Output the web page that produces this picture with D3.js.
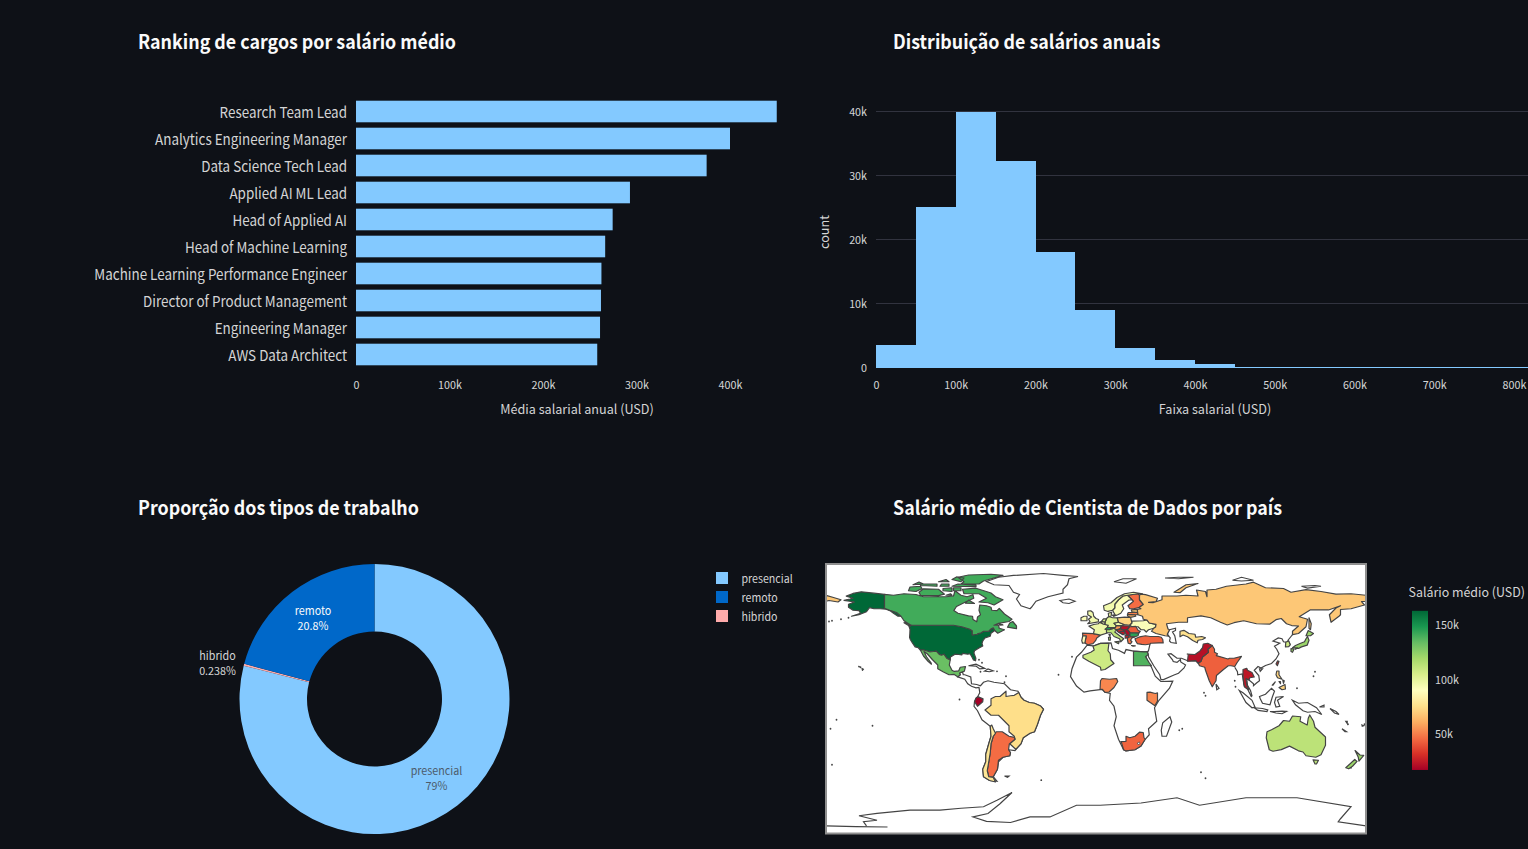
<!DOCTYPE html>
<html><head><meta charset="utf-8">
<script src="https://d3js.org/d3.v7.min.js"></script>
<style>html,body{margin:0;padding:0;background:#0E1117;overflow:hidden}svg{display:block}text{font-family:"Noto Sans CJK SC","Noto Sans",sans-serif}</style>
</head><body><svg id="c" width="1528" height="849"></svg>
<script>
// ---------- data ----------
const jobTitles=["Research Team Lead","Analytics Engineering Manager","Data Science Tech Lead","Applied AI ML Lead","Head of Applied AI","Head of Machine Learning","Machine Learning Performance Engineer","Director of Product Management","Engineering Manager","AWS Data Architect"];
const jobSalaries=[450000,400000,375000,293000,274500,266500,262500,262000,261000,258000];
const barTicks=[0,100000,200000,300000,400000];
const histBinStarts=[0,50,100,150,200,250,300,350,400,450,500,550,600,650,700,750,800,850].map(k=>k*1000);
const histCounts=[3500,25100,39950,32200,18000,9000,3000,1200,600,150,120,110,100,100,100,100,100,100];
const histXTicks=[0,100000,200000,300000,400000,500000,600000,700000,800000];
const histYTicks=[0,10000,20000,30000,40000];
const workTypes=["presencial","hibrido","remoto"];
const workShares=[79,0.238,20.8];
const workShareLabels=["79%","0.238%","20.8%"];
const legendOrder=["presencial","remoto","hibrido"];
const colorbarTicks=[50000,100000,150000];
const rdYlGn=["#a50026","#d73027","#f46d43","#fdae61","#fee08b","#ffffbf","#d9ef8b","#a6d96a","#66bd63","#1a9850","#006837"];
const salaryMin=17000,salaryMax=163000;

// average salary per country
const countrySalaries={USA:163000,Canada:141000,Mexico:133000,Brazil:75000,Argentina:46000,Chile:78000,Ecuador:17000,Spain:46000,Portugal:88000,France:97000,UK:95000,Ireland:92000,Germany:102000,Netherlands:105000,Belgium:90000,Switzerland:148000,Italy:112000,Austria:55000,Czechia:95000,Poland:72000,Lithuania:62000,Latvia:50000,Estonia:70000,Ukraine:92000,Hungary:22000,Serbia:20000,Croatia:30000,Bosnia:24000,Albania:25000,Romania:42000,Bulgaria:145000,Greece:48000,Turkey:44000,Finland:46000,Sweden:92000,Norway:95000,Denmark:98000,Russia:68000,Uzbekistan:76000,Egypt:138000,Algeria:108000,Nigeria:52000,Kenya:52000,SouthAfrica:44000,India:43000,Pakistan:22000,Thailand:24000,Taiwan:26000,Japan:122000,SouthKorea:108000,Philippines:72000,Australia:113000,NewZealand:122000};

// country outlines as [lon,lat] rings
const countryRings={
USA:[[[-124.7,48.4],[-123,49],[-95,49],[-89.5,48],[-84.5,46.5],[-82.5,45.3],[-82.5,42.5],[-79,43],[-79,43.3],[-76.5,44],[-75,45],[-71.5,45],[-70,46.5],[-68.5,47.3],[-67.5,45.5],[-70,43.7],[-70.5,41.7],[-74,40.6],[-75.5,38.5],[-76,36.9],[-75.5,35.2],[-78,33.9],[-81,32],[-81.4,30.5],[-80.1,27],[-80.3,25.3],[-81.7,25.9],[-82.8,28],[-84,30],[-85.5,29.7],[-89,30.3],[-89.5,29.2],[-91.5,29.5],[-94,29.7],[-97,27.9],[-97.2,25.9],[-99.3,26.8],[-101.4,29.7],[-103,29],[-104.5,29.6],[-106.5,31.8],[-108.2,31.5],[-111,31.3],[-114.8,32.5],[-117.1,32.5],[-118.5,34],[-120.6,34.6],[-122.4,37.2],[-123.8,39.5],[-124.3,41],[-124.1,43.5],[-124,46.3]],
[[-141,69.6],[-148,70.4],[-156.5,71.3],[-162,70.2],[-166.5,68.4],[-162,67],[-164,66.5],[-168,65.6],[-161,64.5],[-165,63],[-165,61],[-162,59],[-158,58.7],[-157,57],[-163,55],[-158,56],[-153,58],[-151,60.8],[-148,60],[-144,60],[-140,59.7],[-137,58.5],[-135,57],[-132,55],[-130,55],[-133,57.5],[-137.5,59],[-141,60.3]],
[[-156,20.2],[-155,19.7],[-155.7,19]],[[-158.2,21.6],[-157.7,21.3],[-158.1,21.3]]],
Canada:[[[-141,69.6],[-135,69],[-128,70],[-120,69.5],[-115,68],[-108,68],[-100,68],[-95,68.5],[-94,72],[-90,69],[-86,68],[-82,69.3],[-81.5,67],[-87,64.5],[-93,61.5],[-94.8,58.8],[-92,57],[-85,55.3],[-82.3,55],[-82,52.8],[-79.5,51.3],[-79,54.5],[-77,56],[-78,59],[-77.5,62.5],[-73,62],[-70,61],[-69.5,59],[-66,58.8],[-64.5,60.3],[-61,56.5],[-56,53],[-58,51.5],[-65,50.3],[-68,49],[-65,49.2],[-64.5,47],[-61,46],[-65.5,43.7],[-67.5,45.5],[-68.5,47.3],[-70,46.5],[-71.5,45],[-75,45],[-76.5,44],[-79,43.3],[-79,43],[-82.5,42.5],[-82.5,45.3],[-84.5,46.5],[-89.5,48],[-95,49],[-123,49],[-125,50],[-128,52],[-130,55],[-133,57.5],[-137.5,59],[-141,60.3]],
[[-62,66],[-68,62.5],[-72,64],[-78,64.5],[-73,67],[-78,70],[-88,70],[-89,73],[-80,73.7],[-70,70.5],[-67,68]],
[[-117,69],[-105,68.7],[-101,69.7],[-105,73],[-115,73.3],[-118,71]],
[[-125,72],[-120,71.5],[-116,73.5],[-117,75],[-124,74.5]],
[[-90,76.5],[-78,76.5],[-75,78.5],[-62,82.3],[-70,83],[-85,82.5],[-92,81],[-88,78]],
[[-96,75],[-80,74.7],[-80,75.7],[-92,76.5]],
[[-117,75.5],[-106,75],[-106,76.5],[-117,76.5]],
[[-96,79.5],[-90,78],[-88,80.5],[-93,81.2]],
[[-95,72],[-90,72],[-90,74],[-95,74]],
[[-102,72],[-96,71.5],[-96,74],[-102,73.5]],
[[-104,75],[-98,75],[-98,76.5],[-103,76.5]],
[[-122,76],[-115,76.5],[-118,77.8]],
[[-105,78],[-98,78],[-100,79.5]],
[[-100,69],[-96,69],[-97,70]],
[[-87,63.7],[-81,63.5],[-85,65.8]],
[[-59,47.7],[-53,46.7],[-53,48.5],[-55.5,51.5],[-57.5,50.5]],
[[-64.5,50],[-62,49.2],[-64,49.1]],
[[-128,50.7],[-125,48.8],[-123.5,48.4],[-125,50]]],
Mexico:[[[-117.1,32.5],[-114.8,32.5],[-111,31.3],[-108.2,31.5],[-106.5,31.8],[-104.5,29.6],[-103,29],[-101.4,29.7],[-99.3,26.8],[-97.2,25.9],[-97.8,22.5],[-96,19],[-94.5,18.2],[-91.5,18.6],[-90.5,21],[-87,21.5],[-87.8,18.3],[-89,17.9],[-91,17.2],[-90.5,16],[-92.2,14.6],[-94.5,16.2],[-98,16],[-102,18],[-105.5,20],[-105.5,22.5],[-109,26],[-112.5,30],[-114.7,31.5],[-113,28],[-110,24],[-109.7,23],[-112,25],[-115,28.5]]],
Brazil:[[[-51.5,4.2],[-50,1],[-48,-1],[-44.5,-2.5],[-41,-3],[-37,-4.8],[-35,-7],[-37,-11],[-39,-17],[-41,-22],[-44,-23],[-48.5,-26],[-50,-30],[-53.5,-33.7],[-57.5,-30],[-54,-27],[-54.5,-25],[-58,-22],[-58,-18],[-60,-16],[-65,-11],[-70,-11],[-74,-7.5],[-70,-4.3],[-70,0],[-67,1.5],[-64,1.5],[-60,5],[-60,1.5],[-57,2],[-54.5,2.3]]],
Argentina:[[[-66.5,-22],[-62.5,-22],[-58,-25],[-54.5,-25.7],[-54,-27],[-57.8,-30.2],[-58.3,-34],[-57,-36],[-57.5,-38],[-62,-39],[-65,-41],[-65.7,-47],[-68.5,-52],[-71.5,-52],[-72.5,-48],[-71.5,-42],[-70.5,-36],[-70,-30],[-68.5,-25]]],
Chile:[[[-69.5,-17.5],[-70.5,-18.3],[-70,-25],[-71.5,-30],[-73.5,-37],[-73.5,-42],[-75.5,-47],[-75,-52],[-71,-54.5],[-67,-55.5],[-68.5,-52.5],[-71.5,-52],[-72.5,-48],[-71.5,-42],[-70.5,-36],[-70,-30],[-68.5,-25],[-67,-23],[-68.5,-20]]],
Ecuador:[[[-75.3,-0.1],[-78.8,1.4],[-80,0.5],[-81,-2],[-80,-3.4],[-79,-5],[-75.5,-2]]],
Spain:[[[-9,43.8],[-1.7,43.4],[3,42.4],[0.5,40.5],[-0.3,38.7],[-2,36.8],[-5.5,36],[-7.4,37.2],[-7,39.5],[-6.5,41.8],[-8.8,42]]],
Portugal:[[[-8.8,42],[-6.5,41.8],[-7,39.5],[-7.4,37.2],[-9,37],[-9.5,38.8]]],
France:[[[-1.7,43.4],[3,42.4],[7.5,43.8],[7,46],[8.2,49],[4.5,50],[2.5,51],[1.5,50],[-1.5,49.5],[-4.7,48.4],[-1.1,46]],[[8.6,43],[9.5,43],[9.3,41.5]]],
UK:[[[-5.5,50],[1.5,51.2],[1.7,52.8],[0,53.5],[-1.5,55],[-2,57.5],[-3.5,58.6],[-5.5,58.5],[-5.5,56],[-3,54.5],[-5,53],[-4,51.5]]],
Ireland:[[[-10,52],[-6,52],[-6,55],[-8,55],[-10,54]]],
Germany:[[[6,51],[7,53.5],[8.5,54.8],[11,54],[14.2,53.9],[15,51],[12,50.3],[13.5,48.7],[13,47.5],[7.6,47.6],[8.2,49],[6,49.5]]],
Netherlands:[[[3.5,51.4],[6,51],[7,53.3],[5,53.3]]],
Belgium:[[[2.5,51],[3.5,51.4],[6,51],[5.9,49.6],[4.5,50]]],
Switzerland:[[[6,46.3],[7.6,47.6],[9.6,47.5],[10.4,46.6],[9,46],[7,46]]],
Italy:[[[7,44],[7,46],[9,46],[10.4,46.6],[12,47],[13.7,46],[12.5,44.5],[16,41.8],[18.5,40],[16.5,38],[15.7,40],[12,41.5],[10,44]],[[12.5,38],[15.5,38.2],[15,36.7]],[[8.3,41],[9.7,41],[9.5,39],[8.5,39]]],
Austria:[[[9.6,47.5],[13,47.5],[13.5,48.7],[17,48.7],[16.2,46.8],[13.7,46],[12,47],[10.4,46.6]]],
Czechia:[[[12,50.3],[15,51],[18.8,49.5],[17,48.7],[13.5,48.7]]],
Poland:[[[14.2,53.9],[19,54.4],[23,54.3],[24,50.5],[22.5,49],[18.8,49.5],[15,51]]],
Lithuania:[[[21,55.2],[21,56.3],[26,56],[26.5,55],[23,54.3]]],
Latvia:[[[21,56.3],[21.5,57.5],[24,57.5],[27.5,57.5],[28,56],[26,56]]],
Estonia:[[[23.5,59.2],[28,59.6],[27.5,57.5],[24,57.9]]],
Ukraine:[[[24,50.5],[24,51.7],[31.5,52],[34,52.5],[35.5,50.5],[40,49.6],[39.7,47.8],[38.5,47],[35,46],[33.5,44.5],[32,46],[30,46],[28,48],[24,48],[22.5,49]]],
Hungary:[[[16.2,46.8],[17,48.7],[22.5,48.5],[21,46.2],[18,45.8]]],
Serbia:[[[19,46],[21,46.2],[22.8,44],[22.5,42.3],[20.5,42.3],[19.3,44.5]]],
Croatia:[[[13.7,45.5],[16.2,46.5],[19,45.5],[16,44],[18,42.6],[15,44.3]]],
Bosnia:[[[16,45],[19,44.9],[19.3,43.2],[18,42.8],[16,44]]],
Albania:[[[19.4,42.4],[21,42.2],[22.5,42.3],[21,40.5],[19.5,40.4]]],
Romania:[[[21,46.2],[22.5,48],[26.5,48.2],[28.2,45.5],[29.5,45],[28.5,43.8],[22.8,44]]],
Bulgaria:[[[22.5,44],[28.5,43.8],[28,42],[26,41.3],[22.8,41.3]]],
Greece:[[[21,40.5],[22.8,41.3],[26,41.3],[24,40.5],[23,39],[24,38],[23,36.6],[21.5,37],[21,39]],[[23.7,35.5],[26.2,35.2],[24.7,35]]],
Turkey:[[[26,40],[26.5,38.5],[27.5,36.8],[30.5,36.3],[33,36],[36,36.5],[36.5,37],[42,37.2],[44.8,37.2],[44.5,39.5],[43.5,41],[41.5,41.5],[36,41.5],[33,42],[29,41.2]]],
Finland:[[[21.3,62],[25,65],[24,66],[21,69],[28,70],[29,69],[29,66],[31.5,62.9],[28.5,60.7],[25,60],[22.5,60]]],
Sweden:[[[11,59],[13,55.4],[14.5,56],[16.5,57],[18.5,60],[17.5,62.5],[22,65.8],[24,66],[21,69],[18,68.5],[15,66],[12.5,63],[12.5,60.5]]],
Norway:[[[5.5,59],[8,58.2],[11,59],[12.5,60.5],[12.5,63],[15,66],[18,68.5],[21,69],[28,70],[31,70],[25,71],[19,70],[14,67.5],[10,64],[5,62]]],
Denmark:[[[8.5,54.8],[8.2,57],[10.5,57.7],[10,55]],[[11,55.7],[12.5,56],[12,54.8]]],
Russia:[[[30,69.8],[33,69.4],[41,67],[40,64.7],[35,64.3],[38,64],[44,66],[44,68.5],[54,68.5],[60,69],[68,68.5],[67,72.5],[73,71.5],[74,68],[74,72.5],[80,73],[87,75],[100,76.5],[105,77.7],[113,74],[125,73.5],[130,71],[140,72.7],[150,71.5],[160,69.7],[170,70],[180,69],[180,65],[177,64.7],[179,62.5],[170,60],[163,59.5],[163,56],[162,55],[156.7,51],[155.6,56],[160,60.5],[163,62],[155,59.2],[143,59.3],[135.5,54.7],[141,53],[140,48],[135,43.5],[131,42.7],[131,45],[135,48.5],[130.5,48.8],[127,50],[123.5,53.5],[120,52.7],[116,49.8],[107,50],[98.5,52],[92,50.7],[87.5,49.2],[83,51],[76.5,54],[70,55.2],[61,54],[61,51],[55,51],[47,50],[48,46.5],[49,46],[47.5,43],[48.5,41.8],[46,42],[40,43.5],[37,45],[38.5,47],[39.7,47.8],[40,49.6],[35.5,50.5],[34,52.5],[31.5,53],[31,55],[28,56],[27.5,59.5],[30,60],[28.5,60.7],[31.5,62.9],[29,66],[29,69]],
[[-180,69],[-175,67.5],[-170,66],[-172,64.5],[-178,65.5],[-180,65]],
[[142,54],[143.5,50],[143,46],[142,47],[142,52]],
[[52,71],[56,70.7],[60,74],[68,76.8],[60,76],[56,73.5]]],
Uzbekistan:[[[56,45],[58.6,45.6],[62,43.5],[66,43],[66.5,41],[70.5,41.5],[73,40.7],[71,39.5],[68,39],[67.5,37.3],[64.5,38.8],[61,41.3],[58,42.5],[56,41.3]]],
Egypt:[[[25,31.7],[32,31.2],[34.2,31.3],[34.8,29.5],[33,28],[35.5,24],[37,22],[25,22]]],
Algeria:[[[-2,35],[3,36.9],[8.6,36.9],[8,32],[9.5,30],[9.8,26],[12,23.5],[6,19.5],[3.3,19],[3,21],[-4.8,25],[-8.7,27.3],[-8.7,29],[-3.5,31],[-1.2,32.5]]],
Nigeria:[[[2.7,6.3],[3,12],[4,13.5],[9,13],[13.7,13.5],[14.5,11.5],[12,7.5],[8.7,4.5],[6,4.3],[4.3,6.2]]],
Kenya:[[[34,4.2],[36,4.4],[39.5,3.5],[41,3.9],[41,-1.6],[39.3,-4.6],[34,-1],[34,1.5]]],
SouthAfrica:[[[16.5,-28.6],[17,-29.2],[18.4,-34],[20,-34.8],[26,-34],[30,-31.5],[32.8,-27],[32,-26],[31.5,-22.5],[29,-22.3],[26,-25],[22.5,-26],[20,-25],[20,-28.4]]],
India:[[[68.2,23.6],[70,25],[71,27.8],[75,31],[74.5,33],[77.5,35.5],[79,33],[79,31],[81,30],[80.2,28.8],[88,26.5],[89,27],[92,27],[97,28.3],[94,24],[92.5,21.5],[90,22],[88.2,22],[85,19.5],[80.3,15.5],[80,12],[77.5,8],[75.5,12],[73,19],[72.5,21],[69,22]]],
Pakistan:[[[61,25],[61.5,29.5],[60.8,29.8],[66,29.5],[69.3,31.9],[71,34],[71.5,36.5],[74.5,37],[77.5,35.5],[74.5,33],[75,31],[71,27.8],[70,25],[68,23.7],[66.5,25.4]]],
Thailand:[[[98,16],[98.5,10],[99,8],[101,6.5],[102,6],[100.5,9],[100,13.5],[102,12.5],[102.5,14],[105.5,14.5],[104,17.5],[101,19],[100.5,20.3],[98,19.5]]],
Taiwan:[[[121,25.2],[122,25],[120.9,22],[120,23.2]]],
Japan:[[[141,41.5],[142,39],[140.8,35.7],[137,34.6],[135,33.5],[131,34],[133,35.5],[136,36.8],[139,38],[140,40]],[[140,42],[141.5,45.5],[145,43.5],[143,42]],[[130,33.5],[132,33],[131,31],[130,31.5]],[[132.5,34],[134.5,34],[133,33]]],
SouthKorea:[[[126.5,37.7],[128.4,38.6],[129.5,36],[128.5,34.8],[126.3,34.6]]],
Philippines:[[[120.5,18.5],[122,18.5],[122,16],[124,13],[121,14],[120,16]],[[122,7.5],[126,9.5],[126.3,6.5],[124,6]],[[122,11.5],[123,11.5],[123,10]],[[124.5,12.5],[125.5,12],[125,10.3]],[[117.5,9],[119.5,11.2],[118,9]]],
Australia:[[[114,-22],[113.5,-26],[115.5,-34],[118,-35],[123.5,-33.9],[129,-31.6],[135,-34.7],[138,-35.5],[140,-38],[146.5,-39],[150,-37.3],[153,-31],[153,-25.5],[146,-19],[145,-15],[142.5,-10.8],[141.5,-13],[140.8,-17.5],[136,-15],[136.5,-12],[131,-11.5],[129,-15],[125,-14.5],[122,-18],[117,-20.7]],[[144.7,-40.7],[148.3,-41],[147,-43.5],[146,-43.5]]],
NewZealand:[[[166.5,-46],[172.5,-40.5],[174,-41.8],[171,-45],[168.5,-46.7]],[[172.7,-34.5],[176,-37.5],[178.5,-37.7],[175.3,-41.6],[174.8,-38.8]]]
};

// land with no salary data: outline only
const coastRings=[
[[-44,60],[-50,62],[-53,66.5],[-51,69.5],[-55,71],[-58,75.5],[-68,76],[-73,78.2],[-65,81],[-55,82.2],[-35,83.5],[-22,82.3],[-12,81.5],[-18,80],[-19,76],[-22,73],[-22,70.5],[-32,68],[-40,65],[-43,61]],
[[-92.2,14.6],[-87.5,13],[-85.5,10],[-83,8.3],[-80,7.3],[-78,7.5],[-77.5,4],[-78.8,1.5],[-80,0],[-81,-2],[-81.3,-5],[-79,-8],[-76,-14],[-70.5,-18.3],[-70,-25],[-71.5,-30],[-73.5,-37],[-73.5,-42],[-75.5,-47],[-75,-52],[-71,-54.5],[-66,-55],[-68.5,-52],[-65.7,-47],[-65,-42],[-62,-39],[-57.5,-38],[-57,-36],[-58.5,-34],[-54,-34.5],[-50,-30],[-48.5,-26],[-44,-23],[-41,-22],[-39,-17],[-37,-11],[-35,-7],[-37,-4.8],[-41,-3],[-44.5,-2.5],[-48,-1],[-50,1],[-52,5],[-57,6],[-61,10],[-68,11],[-72,12],[-75,11],[-77,8.7],[-79.5,9.5],[-83,10],[-83.5,14.5],[-87.5,16],[-88.5,16],[-89,17.9],[-91,17.2],[-90.5,16]],
[[-5.9,35.8],[-2,35.2],[3,36.9],[10,37.3],[11,33.5],[15,32.3],[19,30.3],[20,32.8],[25,31.7],[32,31.2],[34.2,31.3],[32.5,29.8],[35,24],[37,21],[39.5,15],[43.2,11.5],[51.2,11.8],[49,7],[42,-1],[39,-6],[40.5,-15],[35,-20],[35.5,-24],[32.8,-27],[30,-31.5],[26,-34],[20,-34.8],[18.4,-34],[15,-27],[12,-18],[13.5,-12],[12,-5],[9,-1],[9.5,3.5],[6,4.3],[4,6.3],[-4,5.2],[-8,4.4],[-13,8.5],[-17,14.7],[-16,20],[-13,27.7],[-9.7,31]],
[[49.3,-12],[50.5,-15.5],[47,-25],[44,-25],[43.5,-21],[44.5,-16]],
[[47.5,43],[49,46],[53,47],[53,45.5],[51,44.5],[52.5,42],[53.5,37],[50,37.5],[49,38.5],[49.5,40.5],[48.5,41.8]],
[[-85,22],[-80,23],[-74.2,20.2],[-77.5,19.9],[-80,21.8]],
[[-74.4,18.4],[-72,19.9],[-68.5,18.6],[-71,18]],
[[-24,65.5],[-18,66.5],[-14,65],[-18,63.5],[-22,64]],
[[12,78],[18,80],[27,80],[20,77]],
[[46,80.5],[55,81],[65,81],[55,80]],
[[91,79],[97,81],[105,79],[97,78.5]],
[[137,75],[146,75.5],[150,75],[141,73.8]],
[[-61,-51.5],[-58,-51.5],[-59,-52.3]],
[[80,9.7],[82,7],[80.5,6]],
[[109,20],[111,20],[109.5,18.3]],
[[95.5,5.5],[98,4],[104,-1],[106,-5.5],[104,-6],[100,-2.5]],
[[105.5,-6],[111,-6.5],[114.5,-7.5],[114,-8.5],[108,-7.8]],
[[109,1.5],[113,3],[117,7],[119,5],[117.5,1],[116,-4],[111,-3],[109.5,0]],
[[120,1],[125,1.5],[121,-1],[122.5,-5],[120,-5.5],[119,-2.5]],
[[131,-1],[135,-3],[141,-2.5],[147,-6],[150.5,-10.5],[146,-8.5],[141,-9],[138,-8],[133,-4]],
[[116,-8.5],[119,-8.5],[124,-8.2],[127,-8.4],[124,-10],[120,-9.5]],
[[149,-5.5],[152,-4.2],[152,-5.5]],[[156,-6.5],[160,-8.5],[162,-10.5],[159,-9.5]],
[[166.5,-15],[167.5,-15],[167.5,-16.5]],[[164,-20],[167,-22],[166,-22]],[[177.3,-17.5],[178.5,-18],[177.5,-18.3]]
];
const coastLines=[
[[36,36.5],[35,32],[34.2,31.3],[34.8,29.5],[35,28],[38.5,22],[42.5,16],[43.3,12.7],[45,12.8],[52,15.8],[55,17],[58.7,20.5],[59.7,22.5],[56.5,24.5],[56.3,26.2],[54,24.2],[51.5,24.8],[51,26],[48,29.7],[50,30],[54,27],[57,27],[61.5,25.2],[66.5,25.4],[68,23.7]],
[[92.5,21],[94.3,18],[94.5,16],[97.5,16.5],[98.5,10],[99,8],[101,6.5],[103.5,1.5],[104,2],[103,5.5],[101,9],[100.5,13.5],[102,12.5],[105,10],[105,8.7],[107,10.5],[109,12],[108.5,15.5],[105.5,19],[108,21.5],[110,20.5],[113,22.2],[117,23.5],[120,26.5],[122,30],[120.5,33],[119,35],[122.5,37],[118,38.5],[121.5,40.5],[124,40],[125,38],[126.5,37.7]],
[[129.5,36],[128,39],[130,41.5],[131,42.7]],
[[-180,-84.8],[-160,-85.2],[-139,-85.5]],
[[-153,-84.8],[-155,-82],[-146,-81],[-158,-78],[-146,-76.4],[-124,-74.3],[-104,-74.3],[-90,-73],[-75,-72],[-66,-67.7],[-56,-62.5],[-64,-70],[-72,-76.5],[-82,-78.8],[-73,-81.7],[-57,-82.5],[-44,-78.8],[-30.7,-78.8],[-13,-71],[2.7,-71],[30,-69.5],[54,-66],[69,-71],[100,-66],[134,-66],[170,-72],[163,-80],[161.5,-82],[180,-84.8]]
];
const smallIslands=[[-173,-14],[-149,-18],[-176,-44],[-91,-0.5],[-36.5,-54.3],[-16,28],[-25,16],[-60,15],[-61,11],[-77,18],[-66,18.3],[-76,24],[-78,26],[-157,21],[-176,52],[-170,53],[-165,54],[-178,51.5],[57.5,-20],[55.5,-21],[70,-49],[73,-53],[-177,-20],[145,15],[170,-46],[179,-17],[168,-17],[72,4],[73,2],[92.5,12],[93,8],[134,7],[146,18]];
const lesothoRing=[[27.5,-29.5],[29,-28.8],[29.3,-30],[28,-30.6]];

// ---------- chart ----------
const BG="#0E1117",LIGHT="#83C9FF",BLUE="#0068C9",PINK="#FFABAB",TXT="#FAFAFA",TICK="rgba(250,250,250,0.85)",GRID="#31333F";
const svg=d3.select("#c");
svg.append("rect").attr("width",1528).attr("height",849).attr("fill",BG);
const kFmt=d=>d===0?"0":d3.format("d")(d/1000)+"k";
// the reference face is narrower than the installed one: condense each text to its measured width
function squeeze(sel,ratio){sel.each(function(){const l=this.getComputedTextLength();d3.select(this).attr("textLength",l*ratio).attr("lengthAdjust","spacingAndGlyphs");});}
function title(s,x,y){svg.append("text").attr("x",x).attr("y",y).attr("fill",TXT).attr("font-size",19.2).attr("font-weight",700).text(s).call(squeeze,0.93);}
function styleAxis(g,size,ratio){g.select(".domain").remove();g.selectAll(".tick line").remove();g.selectAll("text").attr("fill",TICK).attr("font-size",size).call(squeeze,ratio);}
function axisTitle(s,x,y,size,rot){const t=svg.append("text").attr("text-anchor","middle").attr("fill",TICK).attr("font-size",size).text(s);t.attr("transform",`translate(${x},${y})`+(rot?` rotate(${rot})`:"")).call(squeeze,0.97);}

// ranking bars
title("Ranking de cargos por salário médio",138,49);
const bx=d3.scaleLinear().domain([0,400000]).range([356,730]);
const by=d3.scaleBand().domain(jobTitles).range([98,368]).paddingInner(0.2).paddingOuter(0.1);
svg.append("g").selectAll("rect").data(jobTitles).join("rect").attr("x",bx(0)).attr("y",d=>by(d)).attr("height",by.bandwidth()).attr("width",(d,i)=>bx(jobSalaries[i])-bx(0)).attr("fill",LIGHT);
svg.append("g").attr("transform","translate(356,0)").call(d3.axisLeft(by).tickSize(0).tickPadding(9)).call(g=>styleAxis(g,15,0.895)).call(g=>g.selectAll("text").attr("dy","0.42em"));
svg.append("g").attr("transform","translate(0,368)").call(d3.axisBottom(bx).tickValues(barTicks).tickFormat(kFmt).tickSize(0).tickPadding(13)).call(g=>styleAxis(g,11.2,0.96));
axisTitle("Média salarial anual (USD)",577,414,13);

// histogram
title("Distribuição de salários anuais",893,49);
const hx=d3.scaleLinear().domain([0,800000]).range([876,1514]);
const hy=d3.scaleLinear().domain([0,40000]).range([367.5,111.5]);
svg.append("g").selectAll("line").data(histYTicks.slice(1)).join("line").attr("x1",876).attr("x2",1528).attr("y1",d=>hy(d)).attr("y2",d=>hy(d)).attr("stroke",GRID).attr("stroke-width",1);
svg.append("g").attr("shape-rendering","crispEdges").selectAll("rect").data(histBinStarts).join("rect").attr("x",d=>hx(d)).attr("width",d=>hx(d+50000)-hx(d)).attr("y",(d,i)=>hy(histCounts[i])).attr("height",(d,i)=>hy(0)-hy(histCounts[i])).attr("fill",LIGHT);
svg.append("g").attr("transform","translate(876,0)").call(d3.axisLeft(hy).tickValues(histYTicks).tickFormat(kFmt).tickSize(0).tickPadding(9)).call(g=>styleAxis(g,11.2,0.96));
svg.append("g").attr("transform","translate(0,368)").call(d3.axisBottom(hx).tickValues(histXTicks).tickFormat(kFmt).tickSize(0).tickPadding(13)).call(g=>styleAxis(g,11.2,0.96));
axisTitle("Faixa salarial (USD)",1215,414,13);
axisTitle("count",829,232,13,-90);

// donut
title("Proporção dos tipos de trabalho",138,515);
const pieC=[374.5,699],pieColor=d3.scaleOrdinal().domain(workTypes).range([LIGHT,PINK,BLUE]);
const pie=d3.pie().sort(null).value((d,i)=>workShares[i]);
const arc=d3.arc().innerRadius(67.5).outerRadius(135);
const pg=svg.append("g").attr("transform",`translate(${pieC})`);
pg.selectAll("path").data(pie(workTypes)).join("path").attr("d",arc).attr("fill",d=>pieColor(d.data));
const labelAnchors={presencial:[62,76,"#4c5b6b"],remoto:[-61.5,-84,"#FAFAFA"],hibrido:[-157,-39.5,TICK]};
workTypes.forEach((w,i)=>{const [dx,dy,c]=labelAnchors[w];
  pg.append("text").attr("text-anchor","middle").attr("fill",c).attr("font-size",11.2).attr("x",dx).attr("y",dy).text(w).call(squeeze,0.96);
  pg.append("text").attr("text-anchor","middle").attr("fill",c).attr("font-size",11.2).attr("x",dx).attr("y",dy+15.3).text(workShareLabels[i]).call(squeeze,0.96);});
const lg=svg.append("g").selectAll("g").data(legendOrder).join("g").attr("transform",(d,i)=>`translate(716,${572+19*i})`);
lg.append("rect").attr("width",12).attr("height",12).attr("fill",d=>pieColor(d));
lg.append("text").attr("x",25.5).attr("y",11).attr("fill",TICK).attr("font-size",11.2).text(d=>d).call(squeeze,0.95);

// map
title("Salário médio de Cientista de Dados por país",893,515);
const mapBox={x:826,y:564,w:540,h:269.5};
const colorDomain=rdYlGn.map((c,i)=>salaryMin+(salaryMax-salaryMin)*i/(rdYlGn.length-1));
const mapColor=d3.scaleLinear().domain(colorDomain).range(rdYlGn).interpolate(d3.interpolateRgb).clamp(true);
const projection=d3.geoIdentity().reflectY(true).scale(1.5).translate([mapBox.x+mapBox.w/2,mapBox.y+mapBox.h/2]);
const geoPath=d3.geoPath(projection).pointRadius(0.9);
const MAP_LINE="#444",MAP_W=1.2;
svg.append("clipPath").attr("id","mapclip").append("rect").attr("x",mapBox.x).attr("y",mapBox.y).attr("width",mapBox.w).attr("height",mapBox.h);
svg.append("rect").attr("x",mapBox.x).attr("y",mapBox.y).attr("width",mapBox.w).attr("height",mapBox.h).attr("fill","#fff");
const mg=svg.append("g").attr("clip-path","url(#mapclip)");
const ringsToGeo=rs=>({type:"MultiPolygon",coordinates:rs.map(r=>[[...r,r[0]]])});
mg.append("path").datum(ringsToGeo(coastRings)).attr("d",geoPath).attr("fill","none").attr("stroke",MAP_LINE).attr("stroke-width",MAP_W);
mg.append("path").datum({type:"MultiLineString",coordinates:coastLines}).attr("d",geoPath).attr("fill","none").attr("stroke",MAP_LINE).attr("stroke-width",MAP_W);
mg.append("path").datum({type:"MultiPoint",coordinates:smallIslands}).attr("d",geoPath).attr("fill",MAP_LINE);
mg.selectAll("path.country").data(Object.keys(countrySalaries)).join("path").attr("class","country").attr("d",d=>geoPath(ringsToGeo(countryRings[d]))).attr("fill",d=>mapColor(countrySalaries[d])).attr("stroke",MAP_LINE).attr("stroke-width",MAP_W).attr("stroke-linejoin","round");
mg.append("path").datum(ringsToGeo([lesothoRing])).attr("d",geoPath).attr("fill","#fff").attr("stroke",MAP_LINE).attr("stroke-width",0.7);
svg.append("rect").attr("x",mapBox.x).attr("y",mapBox.y).attr("width",mapBox.w).attr("height",mapBox.h).attr("fill","none").attr("stroke","#8f8f8f").attr("stroke-width",2);

// colorbar
const cy=d3.scaleLinear().domain([150000,100000]).range([625,679.5]);
const gradId="cbgrad";
const grad=svg.append("defs").append("linearGradient").attr("id",gradId).attr("x1",0).attr("x2",0).attr("y1",1).attr("y2",0);
grad.selectAll("stop").data(rdYlGn).join("stop").attr("offset",(d,i)=>i/(rdYlGn.length-1)).attr("stop-color",d=>d);
svg.append("rect").attr("x",1412).attr("y",cy(salaryMax)).attr("width",16).attr("height",cy(salaryMin)-cy(salaryMax)).attr("fill",`url(#${gradId})`);
svg.append("g").attr("transform","translate(1428,0)").call(d3.axisRight(cy).tickValues(colorbarTicks).tickFormat(kFmt).tickSize(0).tickPadding(7)).call(g=>styleAxis(g,11.2,0.96));
svg.append("text").attr("x",1408.5).attr("y",597).attr("fill",TICK).attr("font-size",13).text("Salário médio (USD)").call(squeeze,0.955);
</script></body></html>
